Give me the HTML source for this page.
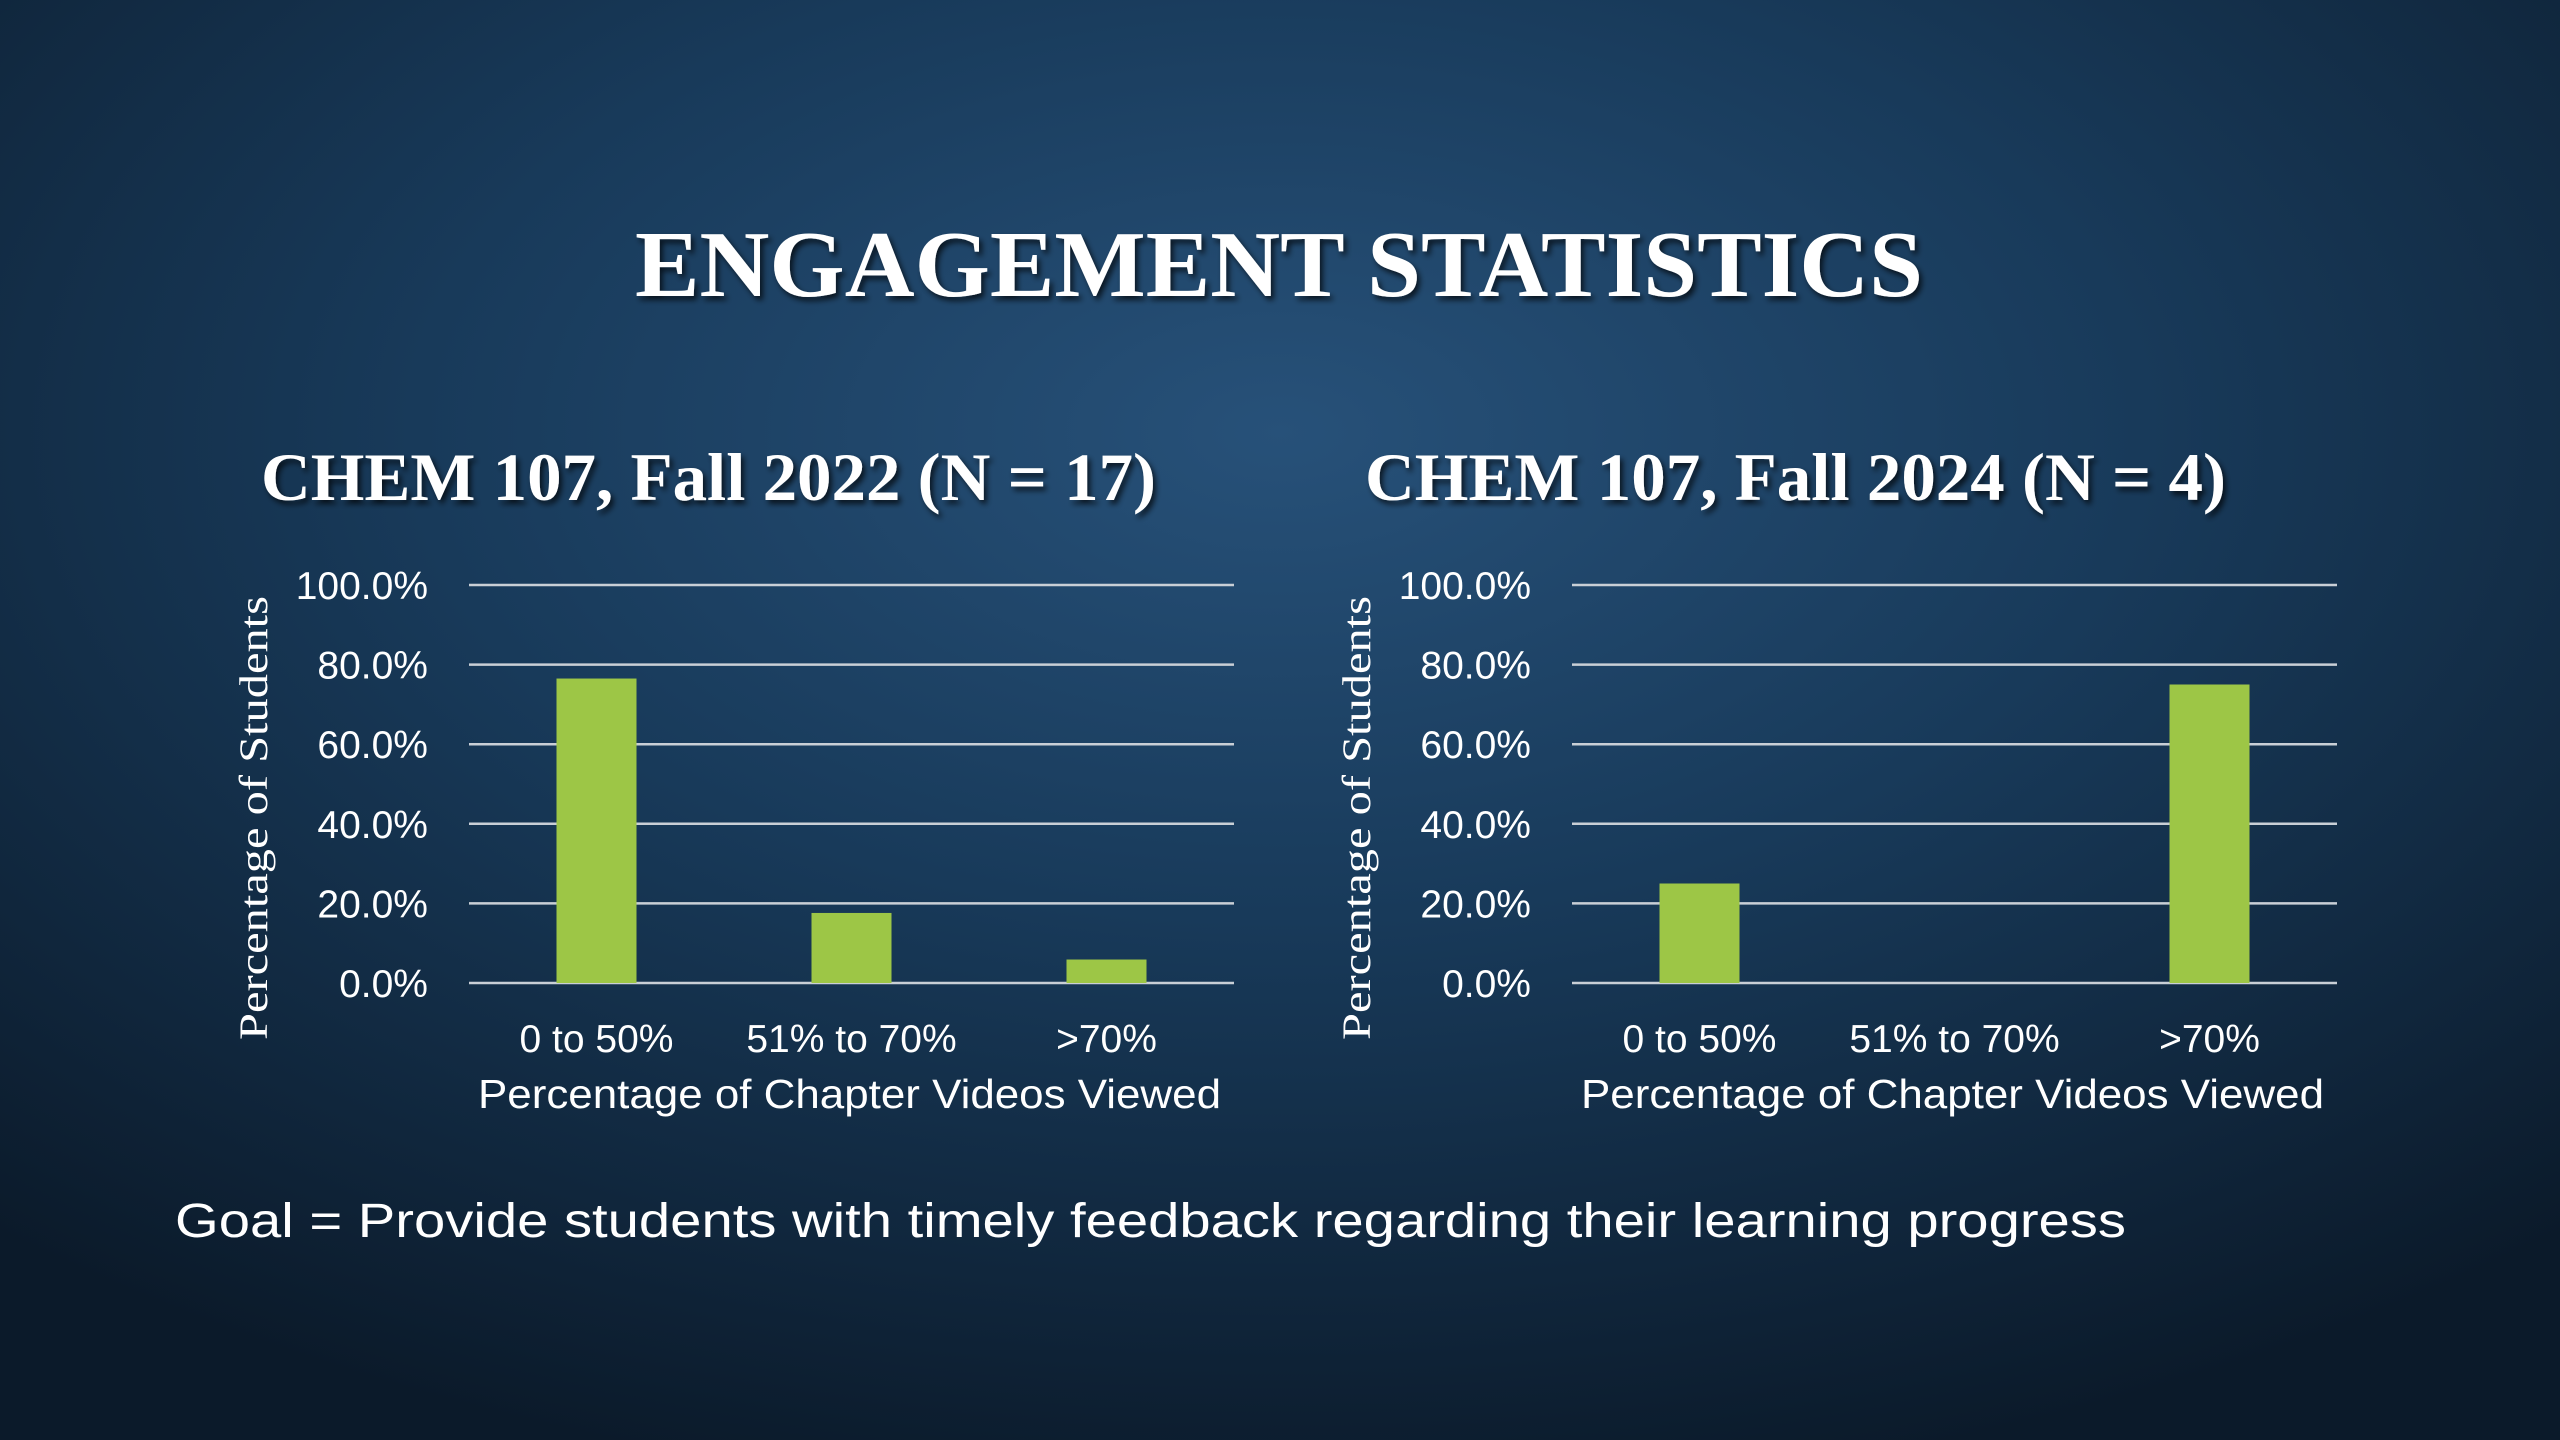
<!DOCTYPE html>
<html><head><meta charset="utf-8"><style>
html,body{margin:0;padding:0;width:2560px;height:1440px;overflow:hidden;background:#0f2236}
svg{display:block}
</style></head><body>
<svg id="slide" width="2560" height="1440" viewBox="0 0 2560 1440" xmlns="http://www.w3.org/2000/svg">
<defs>
<radialGradient id="bg" cx="0.5" cy="0.3" r="0.75">
<stop offset="0" stop-color="#275179"/>
<stop offset="0.45" stop-color="#183a5a"/>
<stop offset="1" stop-color="#0b1a2a"/>
</radialGradient>
<filter id="sh" x="-5%" y="-20%" width="110%" height="140%"><feDropShadow dx="3" dy="4" stdDeviation="3" flood-color="#000" flood-opacity="0.7"/></filter>
</defs>
<rect width="2560" height="1440" fill="url(#bg)"/>
<text x="635" y="296" textLength="1288" lengthAdjust="spacingAndGlyphs" font-family="'Liberation Serif',serif" font-weight="bold" font-size="94" fill="#fff" filter="url(#sh)">ENGAGEMENT STATISTICS</text>
<text x="261" y="500" textLength="895" lengthAdjust="spacingAndGlyphs" font-family="'Liberation Serif',serif" font-weight="bold" font-size="68" fill="#fff" filter="url(#sh)">CHEM 107, Fall 2022 (N = 17)</text>
<text x="1365" y="500" textLength="861" lengthAdjust="spacingAndGlyphs" font-family="'Liberation Serif',serif" font-weight="bold" font-size="68" fill="#fff" filter="url(#sh)">CHEM 107, Fall 2024 (N = 4)</text>
<g id="c1"></g>
<g id="c2"></g>
<text x="175" y="1237" textLength="1951" lengthAdjust="spacingAndGlyphs" font-family="'Liberation Sans',sans-serif" font-size="48" fill="#fff">Goal = Provide students with timely feedback regarding their learning progress</text>
</svg>
<script>
const categories = ["0 to 50%", "51% to 70%", ">70%"];
const values2022 = [76.5, 17.6, 5.9];
const values2024 = [25, 0, 75];
const ticks = [0, 20, 40, 60, 80, 100];
const tickLabels = ["0.0%", "20.0%", "40.0%", "60.0%", "80.0%", "100.0%"];
const NS = "http://www.w3.org/2000/svg";
function mk(tag, attrs, parent, txt){
  const e = document.createElementNS(NS, tag);
  for (const k in attrs) e.setAttribute(k, attrs[k]);
  if (txt !== undefined) e.textContent = txt;
  parent.appendChild(e);
  return e;
}
function drawChart(g, x0, x1, values){
  const yTop = 585, yBot = 983;
  const yScale = v => yBot - (v / 100) * (yBot - yTop);
  const band = (x1 - x0) / categories.length;
  const xCenter = i => x0 + band * (i + 0.5);
  const bw = 80;
  ticks.forEach((t, i) => {
    const ln = mk("line", {x1: x0, x2: x1, y1: yScale(t), y2: yScale(t), stroke: "#c9cfd6", "stroke-width": 2.5}, g);
    
    
    const tx = mk("text", {x: x0 - 41, y: yScale(t) + 14, "text-anchor": "end", "font-family": "'Liberation Sans',sans-serif", "font-size": 39, fill: "#fff"}, g, tickLabels[i]);
    
    
  });
  values.forEach((v, i) => {
    const r = mk("rect", {x: xCenter(i) - bw / 2, y: yScale(v), width: bw, height: yBot - yScale(v), fill: "#9dc646"}, g);
    
    
  });
  categories.forEach((c, i) => {
    const t = mk("text", {x: xCenter(i), y: 1052, "text-anchor": "middle", "font-family": "'Liberation Sans',sans-serif", "font-size": 39, fill: "#fff"}, g, c);
    
    
  });
  const xt = mk("text", {x: x0 + 9, y: 1108, textLength: 743, lengthAdjust: "spacingAndGlyphs", "font-family": "'Liberation Sans',sans-serif", "font-size": 41, fill: "#fff"}, g, "Percentage of Chapter Videos Viewed");
  
  
  const yx = x0 - 202, yc = 818;
  const yt = mk("text", {x: yx, y: yc, transform: `rotate(-90 ${yx} ${yc})`, "text-anchor": "middle", textLength: 444, lengthAdjust: "spacingAndGlyphs", "font-family": "'Liberation Serif',serif", "font-size": 40, fill: "#fff"}, g, "Percentage of Students");
  
  
}
drawChart(document.getElementById("c1"), 469, 1234, values2022);
drawChart(document.getElementById("c2"), 1572, 2337, values2024);
</script>
</body></html>
